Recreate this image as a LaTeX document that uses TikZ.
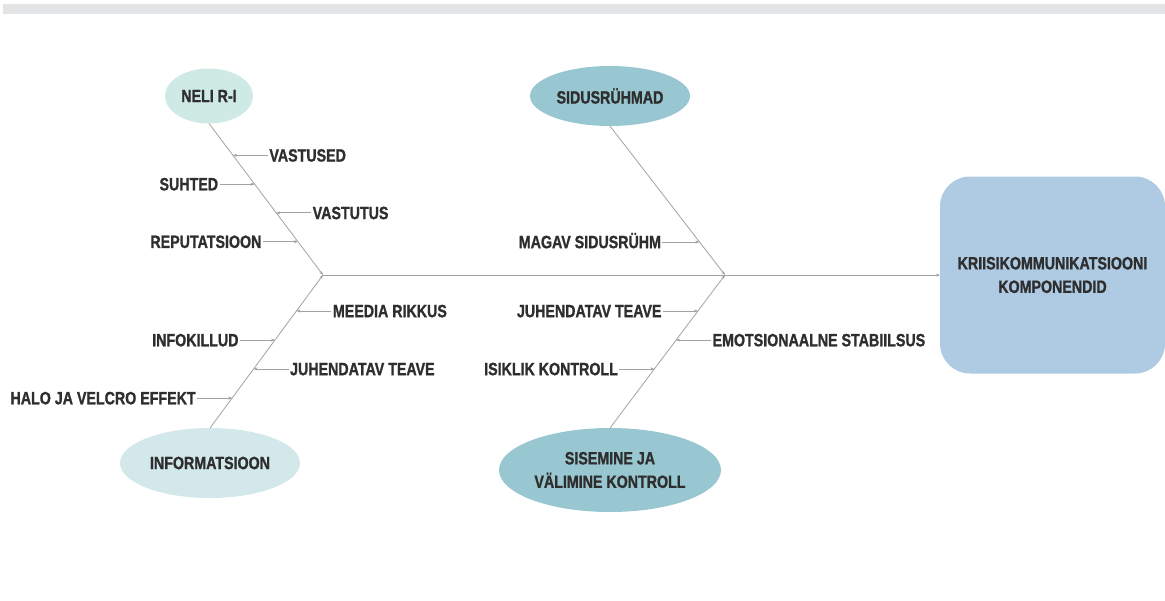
\documentclass[tikz,border=0pt]{standalone}
\usepackage{fontspec}
\newfontfamily\narrowbold{Liberation Sans}[FakeStretch=0.8,FakeBold=1.2]
\usetikzlibrary{positioning,arrows.meta,shapes.geometric}
\definecolor{bargray}{HTML}{E3E4E6}
\definecolor{linegray}{HTML}{A2A2A2}
\definecolor{textgray}{HTML}{2E2E2E}
\definecolor{mintfill}{HTML}{CFEAE4}
\definecolor{palefill}{HTML}{D2E8EA}
\definecolor{tealfill}{HTML}{98C6D1}
\definecolor{boxfill}{HTML}{AECBE3}
\tikzset{
    font = \narrowbold\bfseries\fontsize{17.8}{23.5}\selectfont,
    every node/.style = {
        inner sep = 0pt,
        outer sep = 0pt,
        text = textgray
    },
    cause/.style = {
        ellipse,
        align = center
    },
    effect/.style = {
        rounded corners = 30pt,
        fill = boxfill,
        align = center,
        minimum width = 225pt,
        minimum height = 197pt
    },
    twiglabel/.style = {
        inner sep = 1.5pt,
        text height = 12.5pt,
        text depth = 0pt
    },
    bone/.style = {
        draw = linegray,
        line width = 0.8pt,
        -{Stealth[length=4pt,width=3pt,fill=textgray]}
    },
    twig/.style = {
        bone
    }
}

\begin{document}
\begin{tikzpicture}
    \useasboundingbox (0,0) rectangle (1165pt,-600pt);
    \fill[bargray] (3pt,-4pt) rectangle (1165pt,-14pt);
    \node (neli) at (209pt,-96pt) [cause, fill=mintfill,
        minimum width=88pt, minimum height=55pt]{NELI R-I};
    \node (info) at (210pt,-463pt) [cause, fill=palefill,
        minimum width=180pt, minimum height=70pt]{INFORMATSIOON};
    \node (sidus) at (610pt,-96pt) [cause, fill=tealfill,
        minimum width=160pt, minimum height=60pt]{SIDUSRÜHMAD};
    \node (sise) at (610pt,-470pt) [cause, fill=tealfill,
        minimum width=222pt, minimum height=84pt]{SISEMINE JA\\VÄLIMINE KONTROLL};
    \node (box) at (1052.5pt,-275pt) [effect]{KRIISIKOMMUNIKATSIOONI\\KOMPONENDID};
    \coordinate (j1) at (323pt,-275pt);
    \coordinate (j2) at (725pt,-275pt);
    \path (neli.south) -- (j1)
        coordinate[pos=0.21] (n1) coordinate[pos=0.40] (n2)
        coordinate[pos=0.59] (n3) coordinate[pos=0.78] (n4);
    \path (j1) -- (info.north)
        coordinate[pos=0.235] (i1) coordinate[pos=0.425] (i2)
        coordinate[pos=0.614] (i3) coordinate[pos=0.804] (i4);
    \path (sidus.south) -- (j2)
        coordinate[pos=0.778] (s1);
    \path (j2) -- (sise.north)
        coordinate[pos=0.235] (k1) coordinate[pos=0.425] (k2)
        coordinate[pos=0.614] (k3);
    \draw[bone] (neli.south) -- (j1);
    \draw[bone] (info.north) -- (j1);
    \draw[bone] (sidus.south) -- (j2);
    \draw[bone] (sise.north) -- (j2);
    \draw[bone] (j1) -- (box.west);
    \node (vastused) [twiglabel, right=35pt of n1]{VASTUSED};
    \node (suhted) [twiglabel, left=35pt of n2]{SUHTED};
    \node (vastutus) [twiglabel, right=35pt of n3]{VASTUTUS};
    \node (reput) [twiglabel, left=35pt of n4]{REPUTATSIOON};
    \node (meedia) [twiglabel, right=35pt of i1]{MEEDIA RIKKUS};
    \node (killud) [twiglabel, left=35pt of i2]{INFOKILLUD};
    \node (juhend1) [twiglabel, right=35pt of i3]{JUHENDATAV TEAVE};
    \node (halo) [twiglabel, left=35pt of i4]{HALO JA VELCRO EFFEKT};
    \node (magav) [twiglabel, left=37pt of s1]{MAGAV SIDUSRÜHM};
    \node (juhend2) [twiglabel, left=35pt of k1]{JUHENDATAV TEAVE};
    \node (emots) [twiglabel, right=35pt of k2]{EMOTSIONAALNE STABIILSUS};
    \node (isiklik) [twiglabel, left=35pt of k3]{ISIKLIK KONTROLL};
    \draw[twig] (vastused) -- (n1);
    \draw[twig] (suhted) -- (n2);
    \draw[twig] (vastutus) -- (n3);
    \draw[twig] (reput) -- (n4);
    \draw[twig] (meedia) -- (i1);
    \draw[twig] (killud) -- (i2);
    \draw[twig] (juhend1) -- (i3);
    \draw[twig] (halo) -- (i4);
    \draw[twig] (magav) -- (s1);
    \draw[twig] (juhend2) -- (k1);
    \draw[twig] (emots) -- (k2);
    \draw[twig] (isiklik) -- (k3);
\end{tikzpicture}
\end{document}
